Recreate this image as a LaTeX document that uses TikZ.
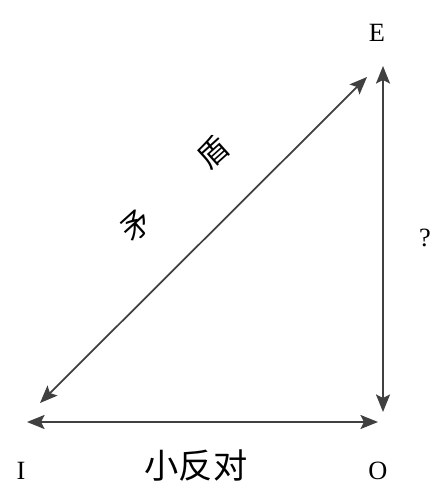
\documentclass[tikz,border=0pt]{standalone}
\usepackage{fontspec}
\setmainfont{Liberation Serif}
\newfontfamily\cjk{Noto Sans CJK SC}
\usetikzlibrary{arrows.meta}
\begin{document}
\begin{tikzpicture}[>={Stealth[length=10pt,width=8pt,inset=2pt]},x=0.02cm,y=-0.02cm,line join=round,
		lab/.style={font=\fontsize{15}{17}\selectfont},
		zh/.style={font=\cjk\fontsize{19.5}{22}\selectfont},
		zhd/.style={font=\cjk\fontsize{17}{19}\selectfont,rotate=42},
		rel/.style={<->,draw=black!75,line width=1pt}]
	\useasboundingbox (0,0) rectangle (438,489);
	% corners
	\node[lab] (I) at (21,471) {I};
	\node[lab] (O) at (378,471) {O};
	\node[lab] (E) at (377,33) {E};
	\coordinate (iH) at (27,422);
	\coordinate (oH) at (378,422);
	\coordinate (oV) at (383,412);
	\coordinate (eV) at (383,66);
	\coordinate (iD) at (40,403);
	\coordinate (eD) at (367,77);
	% relations
	\draw[rel] (iH) -- (oH);
	\draw[rel] (oV) -- (eV);
	\draw[rel] (iD) -- (eD);
	\node[zh] (sub) at (196,466) {小反对};
	\node[lab] (q) at (425,238) {?};
	\node[zhd] (mao) at (137,226) {矛};
	\node[zhd] (dun) at (213,152) {盾};
\end{tikzpicture}
\end{document}
